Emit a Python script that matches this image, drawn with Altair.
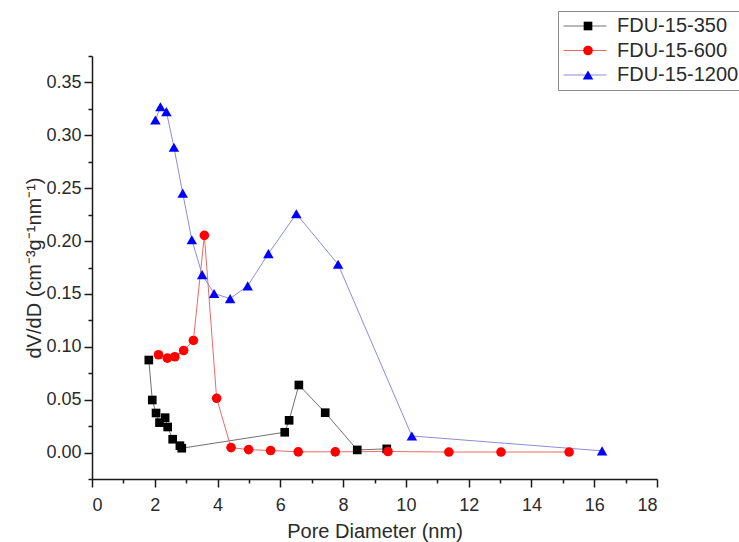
import altair as alt
import pandas as pd

series = ["FDU-15-350", "FDU-15-600", "FDU-15-1200"]

x350 = [1.81, 1.92, 2.04, 2.15, 2.33, 2.41, 2.57, 2.80, 2.86, 6.14, 6.28, 6.59, 7.43, 8.45, 9.39]
y350 = [0.0875, 0.0497, 0.0374, 0.0283, 0.0330, 0.0242, 0.0126, 0.0065, 0.0041,
        0.0192, 0.0305, 0.0639, 0.0377, 0.0025, 0.0035]

x600 = [2.12, 2.40, 2.64, 2.92, 3.23, 3.58, 3.97, 4.43, 4.99, 5.69, 6.57, 7.75, 9.43, 11.37, 13.03, 15.20]
y600 = [0.0925, 0.0893, 0.0906, 0.0965, 0.1060, 0.2054, 0.0513, 0.0047, 0.0028,
        0.0019, 0.0007, 0.0007, 0.0010, 0.0005, 0.0005, 0.0005]

x1200 = [2.02, 2.18, 2.37, 2.61, 2.89, 3.18, 3.51, 3.89, 4.40, 4.96, 5.62, 6.51, 7.84, 10.19, 16.25]
y1200 = [0.3145, 0.3270, 0.3224, 0.2887, 0.2453, 0.2013, 0.1683, 0.1504, 0.1456,
         0.1576, 0.1881, 0.2258, 0.1780, 0.0157, 0.0016]

x_ticks = list(range(0, 19))
y_ticks = [-0.025, 0.0, 0.025, 0.05, 0.075, 0.1, 0.125, 0.15, 0.175, 0.2, 0.225,
           0.25, 0.275, 0.3, 0.325, 0.35, 0.375]

line_colors = ["#707070", "#e86a6a", "#8c8cd8"]
marker_colors = ["#000000", "#ff0000", "#0000ff"]
shapes = ["square", "circle", "triangle-up"]
sizes = [75, 110, 140]

# line layer uses a slightly different key (trailing space) so its legend stays separate
curves = [s + " " for s in series]

rows = []
for k, (xs, ys) in enumerate([(x350, y350), (x600, y600), (x1200, y1200)]):
    for i, (a, b) in enumerate(zip(xs, ys)):
        rows.append({"series": series[k], "curve": curves[k], "d": a, "v": b, "idx": i})
df = pd.DataFrame(rows)

FONT = "Liberation Sans"
TXT = "#2a2a2a"

x_enc = alt.X("d:Q", scale=alt.Scale(domain=[0, 18], nice=False, zero=False),
              axis=alt.Axis(values=x_ticks,
                            labelExpr="datum.value % 2 === 0 ? datum.label : ''",
                            tickSize={"condition": {"test": "datum.value % 2 === 0", "value": 8}, "value": 4},
                            title="Pore Diameter (nm)", titlePadding=7, labelPadding=9,
                            grid=False))
y_enc = alt.Y("v:Q", scale=alt.Scale(domain=[-0.025, 0.375], nice=False, zero=False),
              axis=alt.Axis(values=y_ticks,
                            labelExpr="abs(round(datum.value*1000)) % 50 === 0 ? format(datum.value, '.2f') : ''",
                            tickSize={"condition": {"test": "abs(round(datum.value*1000)) % 50 === 0", "value": 8}, "value": 4},
                            title="dV/dD (cm⁻³g⁻¹nm⁻¹)", titlePadding=1, labelPadding=3,
                            grid=False))

line_legend = alt.Legend(title=None, orient="none", legendX=466, legendY=-45,
                         symbolType="stroke", symbolSize=1849, symbolStrokeWidth=1,
                         clipHeight=20,
                         labelFont=FONT, labelFontSize=20, labelColor=TXT, labelOffset=10,
                         labelLimit=400, strokeColor="#8a8a8a", padding=5, rowPadding=4.5)

pt_legend = alt.Legend(title=None, orient="none", legendX=481, legendY=-45,
                       clipHeight=20, labelExpr="' '",
                       labelFont=FONT, labelFontSize=20, labelOpacity=0, labelOffset=7,
                       symbolStrokeWidth=0, symbolOpacity=1, padding=5, rowPadding=4.5)

lines = alt.Chart(df).mark_line(strokeWidth=1).encode(
    x=x_enc, y=y_enc,
    stroke=alt.Stroke("curve:N", scale=alt.Scale(domain=curves, range=line_colors), legend=line_legend),
    order=alt.Order("idx:Q"),
)

points = alt.Chart(df).mark_point(filled=True, opacity=1, strokeWidth=0).encode(
    x=x_enc, y=y_enc,
    fill=alt.Fill("series:N", scale=alt.Scale(domain=series, range=marker_colors), legend=pt_legend),
    shape=alt.Shape("series:N", scale=alt.Scale(domain=series, range=shapes), legend=pt_legend),
    size=alt.Size("series:N", scale=alt.Scale(domain=series, range=sizes), legend=pt_legend),
)

chart = alt.layer(lines, points).properties(
    width=565, height=423,
    padding={"left": 92, "top": 56, "right": 82, "bottom": 63},
    autosize=alt.AutoSizeParams(type="none"),
    background="white",
).configure_view(stroke=None).configure_axis(
    domainColor="#1a1a1a", domainWidth=1.5, tickColor="#1a1a1a", tickWidth=1.5,
    labelFont=FONT, labelFontSize=18, labelColor=TXT,
    titleFont=FONT, titleFontSize=20, titleFontWeight="normal", titleColor=TXT,
)

chart.save("out.html", embed_options={"renderer": "svg", "actions": False})
